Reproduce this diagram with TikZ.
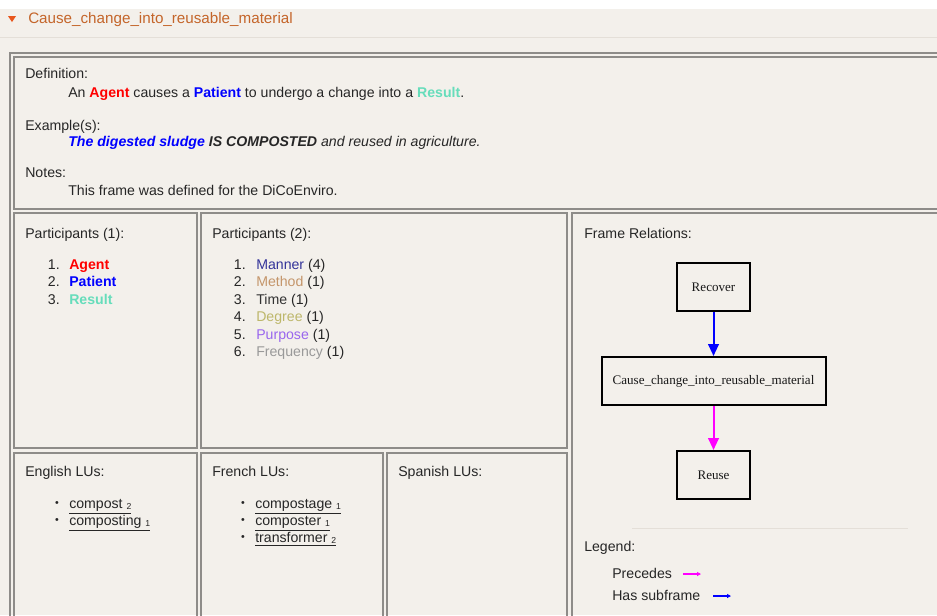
\documentclass[tikz,border=0pt]{standalone}
\usepackage{fontspec}
\setmainfont{Liberation Sans}
\newfontfamily\graphfont{Liberation Serif}
\usetikzlibrary{positioning,arrows.meta}

\definecolor{pagebg}{HTML}{F3F0EB}
\definecolor{bandline}{HTML}{E4DFD8}
\definecolor{cellline}{HTML}{8E8C89}
\definecolor{titleorange}{HTML}{C4652A}
\definecolor{toggleorange}{HTML}{E8561C}
\definecolor{fetagent}{HTML}{FF0000}
\definecolor{fetpatient}{HTML}{0000FF}
\definecolor{fetresult}{HTML}{66DDBB}
\definecolor{fetmanner}{HTML}{333399}
\definecolor{fetmethod}{HTML}{C4956A}
\definecolor{fettime}{HTML}{333333}
\definecolor{fetdegree}{HTML}{BDB76B}
\definecolor{fetpurpose}{HTML}{9966EE}
\definecolor{fetfreq}{HTML}{999999}
\definecolor{precedes}{HTML}{FF00FF}
\definecolor{subframe}{HTML}{0000FF}

\newcommand{\lu}[2]{\underline{#1 \raisebox{-1pt}{\fontsize{6.5}{7}\selectfont #2}}}
\newcommand{\fe}[2]{\textcolor{#1}{\textbf{#2}}}

\begin{document}
\begin{tikzpicture}[x=0.75pt, y=-0.75pt,
  every node/.style={inner sep=0pt, font=\fontsize{10.6}{12}\selectfont, text=black!85},
  txt/.style={anchor=base west},
  num/.style={anchor=base east},
  dot/.style={font=\footnotesize},
  cell/.style={draw=cellline, line width=1pt},
  framebox/.style={draw=black, line width=1.5pt, minimum height=36pt, text=black!90,
    font=\graphfont\fontsize{9.8}{11}\selectfont},
  subarrow/.style={draw=subframe, line width=1.5pt, -{Triangle[length=9pt, width=8pt]}},
  precarrow/.style={draw=precedes, line width=1.5pt, -{Triangle[length=9pt, width=8pt]}}]

  \useasboundingbox (0,0) rectangle (937,615);
  \clip (0,0) rectangle (937,615);
  \fill[pagebg] (0,0) rectangle (937,615);
  \fill[white] (0,0) rectangle (937,9);
  \draw[bandline] (0,37) -- (937,37);

  \fill[toggleorange] (8,16) -- (16,16) -- (12,22) -- cycle;
  \node[txt, text=titleorange, font=\fontsize{11.4}{13}\selectfont] (title) at (28,23)
    {Cause\_change\_into\_reusable\_material};

  \draw[cell] (10,53) rectangle (950,630);
  \draw[cell] (14,57) rectangle (946,209);
  \draw[cell] (14,213) rectangle (197,448);
  \draw[cell] (201,213) rectangle (567,448);
  \draw[cell] (572,213) rectangle (946,626);
  \draw[cell] (14,453) rectangle (197,626);
  \draw[cell] (201,453) rectangle (383,626);
  \draw[cell] (387,453) rectangle (567,626);

  \node[txt] (defhead) at (25,78) {Definition:};
  \node[txt] (deftext) at (68,97)
    {An \fe{fetagent}{Agent} causes a \fe{fetpatient}{Patient} to undergo a change into a \fe{fetresult}{Result}.};
  \node[txt] (exhead) at (25,130) {Example(s):};
  \node[txt] (extext) at (68,146)
    {\itshape\textcolor{fetpatient}{\textbf{The digested sludge}} \textbf{IS COMPOSTED} and reused in agriculture.};
  \node[txt] (notehead) at (25,177) {Notes:};
  \node[txt] (notetext) at (68,195) {This frame was defined for the DiCoEnviro.};

  \node[txt] (corehead) at (25,238) {Participants (1):};
  \node[num] (n1) at (60,269) {1.};
  \node[txt] (agent) at (69,269) {\fe{fetagent}{Agent}};
  \node[num] (n2) at (60,286.5) {2.};
  \node[txt] (patient) at (69,286.5) {\fe{fetpatient}{Patient}};
  \node[num] (n3) at (60,304) {3.};
  \node[txt] (result) at (69,304) {\fe{fetresult}{Result}};

  \node[txt] (periphead) at (212,238) {Participants (2):};
  \node[num] (m1) at (246,269) {1.};
  \node[txt] (manner) at (256,269) {\textcolor{fetmanner}{Manner} (4)};
  \node[num] (m2) at (246,286.5) {2.};
  \node[txt] (method) at (256,286.5) {\textcolor{fetmethod}{Method} (1)};
  \node[num] (m3) at (246,304) {3.};
  \node[txt] (time) at (256,304) {\textcolor{fettime}{Time} (1)};
  \node[num] (m4) at (246,321.5) {4.};
  \node[txt] (degree) at (256,321.5) {\textcolor{fetdegree}{Degree} (1)};
  \node[num] (m5) at (246,339) {5.};
  \node[txt] (purpose) at (256,339) {\textcolor{fetpurpose}{Purpose} (1)};
  \node[num] (m6) at (246,356.5) {6.};
  \node[txt] (frequency) at (256,356.5) {\textcolor{fetfreq}{Frequency} (1)};

  \node[txt] (enhead) at (25,476) {English LUs:};
  \node[dot] (eb1) at (57,504) {\textbullet};
  \node[txt] (compost) at (69,508) {\lu{compost}{2}};
  \node[dot] (eb2) at (57,521) {\textbullet};
  \node[txt] (composting) at (69,525) {\lu{composting}{1}};

  \node[txt] (frhead) at (212,476) {French LUs:};
  \node[dot] (fb1) at (243,504) {\textbullet};
  \node[txt] (compostage) at (255,508) {\lu{compostage}{1}};
  \node[dot] (fb2) at (243,521) {\textbullet};
  \node[txt] (composter) at (255,525) {\lu{composter}{1}};
  \node[dot] (fb3) at (243,538) {\textbullet};
  \node[txt] (transformer) at (255,542) {\lu{transformer}{2}};

  \node[txt] (eshead) at (398,476) {Spanish LUs:};

  \node[txt] (relhead) at (584,238) {Frame Relations:};
  \node[framebox, minimum width=54.75pt] (recover) at (713.5,287) {Recover};
  \node[framebox, minimum width=168pt, below=33pt of recover] (cause)
    {Cause\_change\_into\_reusable\_material};
  \node[framebox, minimum width=54.75pt, below=33pt of cause] (reuse) {Reuse};
  \draw[subarrow] (recover) -- (cause);
  \draw[precarrow] (cause) -- (reuse);

  \draw[bandline] (632,528) -- (908,528);
  \node[txt] (legend) at (584,551) {Legend:};
  \node[txt] (preclabel) at (612,578) {Precedes};
  \coordinate (precfrom) at (683,574);
  \coordinate (precto) at (701,574);
  \draw[draw=precedes, line width=0.8pt, -{Triangle[length=3pt, width=3pt]}] (precfrom) -- (precto);
  \node[txt] (sublabel) at (612,600) {Has subframe};
  \coordinate (subfrom) at (713,596);
  \coordinate (subto) at (731,596);
  \draw[draw=subframe, line width=0.8pt, -{Triangle[length=3pt, width=3pt]}] (subfrom) -- (subto);

\end{tikzpicture}
\end{document}
